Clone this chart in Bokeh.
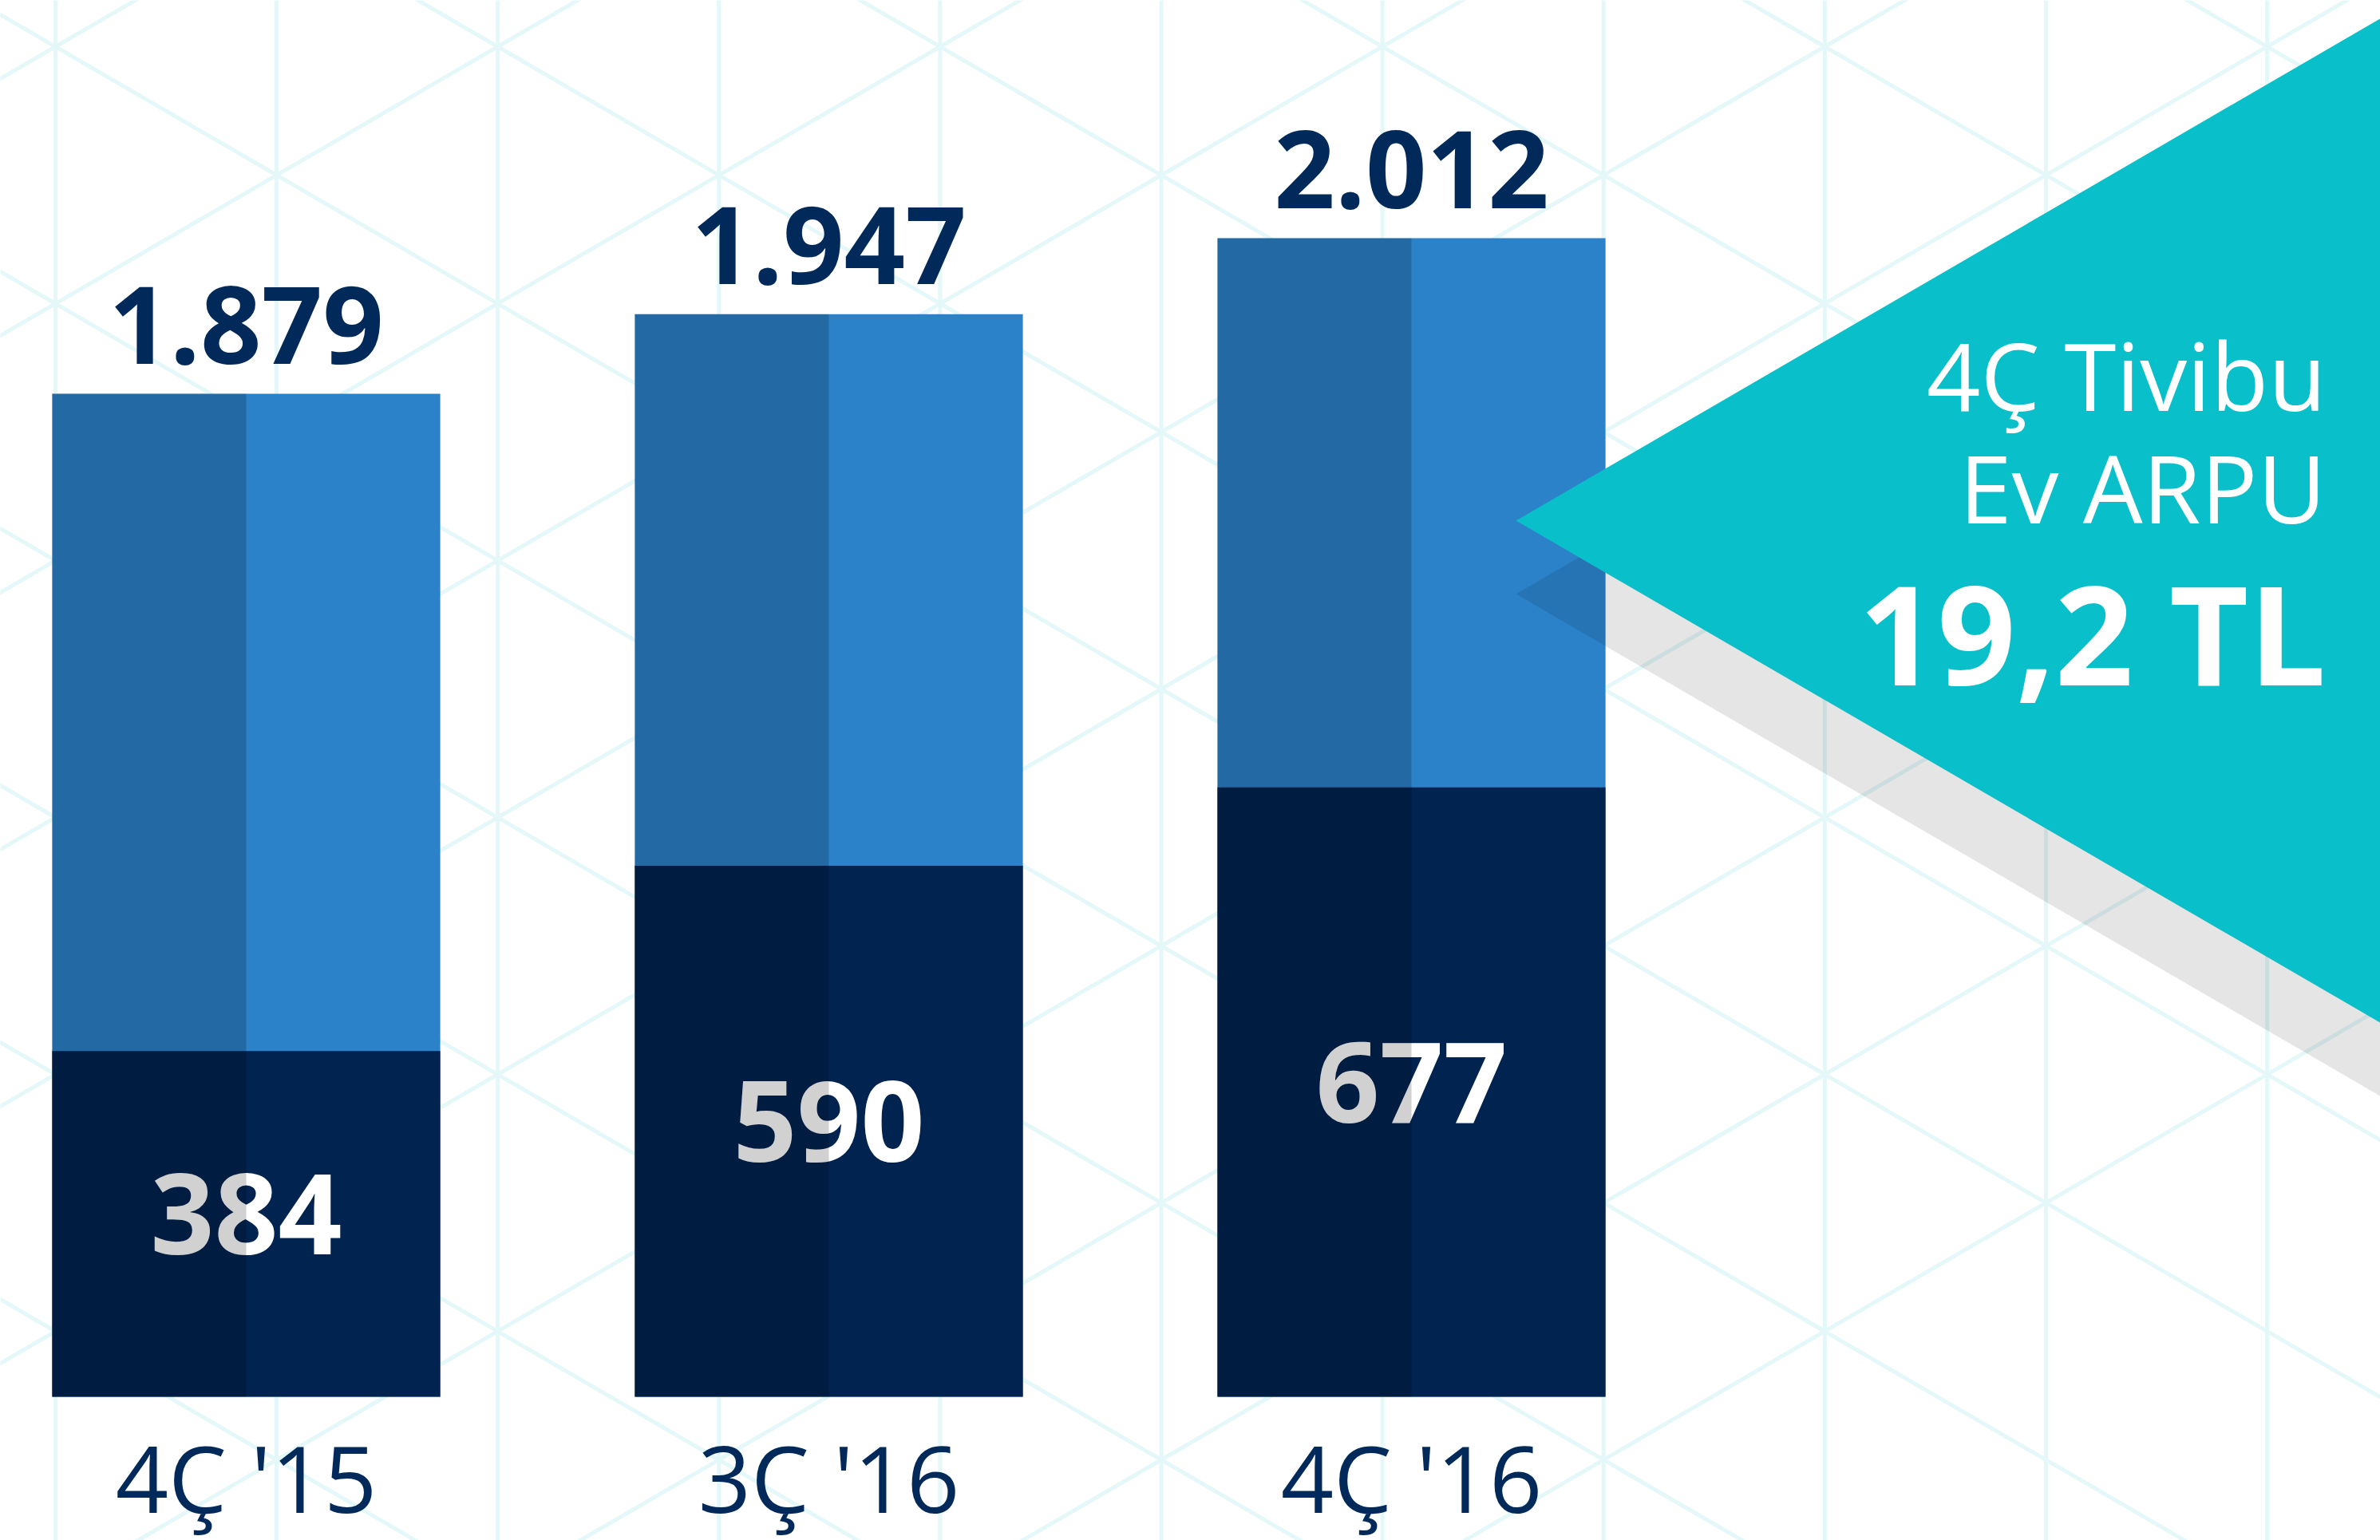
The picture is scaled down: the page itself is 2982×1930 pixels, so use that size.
import numpy as np
from bokeh.plotting import figure
from bokeh.models import Range1d, ColumnDataSource
from bokeh.core.properties import value
from bokeh.embed import file_html
from bokeh.resources import INLINE

# ---------------- data ----------------
categories = ["4Ç '15", "3Ç '16", "4Ç '16"]
total_subs = [1879, 1947, 2012]          # label above bar
tivibu_ev = [384, 590, 677]              # dark lower segment
arpu_title = ["4Ç Tivibu", "Ev ARPU"]
arpu_value = "19,2 TL"

def tr_fmt(v):
    return f"{v:,}".replace(",", ".")

total_labels = [tr_fmt(v) for v in total_subs]
ev_labels = [str(v) for v in tivibu_ev]

# ---------------- styling / layout ----------------
W, H = 2982, 1930
PAGE_X0, PAGE_Y0 = 0, 0
BASE_PX = 1750            # page y of bar baseline
BAR0_PX, BAR_STEP = 308, 730
BAR_W = 0.666

LIGHT = "#2B82C9"
DARK = "#002350"
NAVY = "#012A5A"
TEAL = "#09BFC9"
LATTICE = "#E4F7F9"
FONT = value("Open Sans")

# scales (infographic scales, not to common scale)
k_dark = 1.128                   # px per unit for lower segment
b_tot, v0_tot = 1.4672, 1022.3   # px per unit / baseline value for totals

x_range = Range1d((PAGE_X0 - BAR0_PX) / BAR_STEP, (PAGE_X0 + W - BAR0_PX) / BAR_STEP)
y_range = Range1d(-(PAGE_Y0 + H - BASE_PX) / k_dark, (BASE_PX - PAGE_Y0) / k_dark)

p = figure(width=W, height=H, x_range=x_range, y_range=y_range,
           output_backend="svg", toolbar_location=None,
           x_axis_location=None, y_axis_location=None,
           min_border=0, background_fill_color="white", border_fill_color="white")
p.outline_line_color = None
p.grid.visible = False
p.extra_y_ranges = {
    "total": Range1d(v0_tot - (PAGE_Y0 + H - BASE_PX) / b_tot, v0_tot + (BASE_PX - PAGE_Y0) / b_tot),
    "py": Range1d(PAGE_Y0 + H, PAGE_Y0),
}
p.extra_x_ranges = {"px": Range1d(PAGE_X0, PAGE_X0 + W)}

# ---------------- background lattice ----------------
dx, half_dy = 277.1, 161.0
ox, oy = 69.0, 58.0
slope = half_dy / dx
vx = ox + dx * np.arange(-1, 12)
p.segment(x0=vx, y0=np.full(vx.shape, -50.0), x1=vx, y1=np.full(vx.shape, 2000.0),
          x_range_name="px", y_range_name="py", line_color=LATTICE, line_width=5)
m = np.arange(-9, 10)
xa, xb = -100.0, 3100.0
for sgn in (1, -1):
    ya = oy + sgn * slope * (xa - ox) + 2 * half_dy * m
    yb = oy + sgn * slope * (xb - ox) + 2 * half_dy * m
    p.segment(x0=np.full(m.shape, xa), y0=ya, x1=np.full(m.shape, xb), y1=yb,
              x_range_name="px", y_range_name="py", line_color=LATTICE, line_width=5)

# ---------------- bars ----------------
idx = np.arange(len(categories))
src = ColumnDataSource(dict(
    x=idx, total=total_subs, ev=tivibu_ev, half=[v / 2 for v in tivibu_ev],
    xl=idx - BAR_W / 4, tl=total_labels, el=ev_labels, cat=categories,
))

p.vbar(x="x", width=BAR_W, bottom=v0_tot, top="total", source=src,
       y_range_name="total", fill_color=LIGHT, line_color=None)
p.vbar(x="x", width=BAR_W, bottom=0, top="ev", source=src,
       fill_color=DARK, line_color=None)

p.text(x="x", y="half", text="el", source=src, text_font=FONT, text_font_style="bold",
       text_font_size="140px", text_align="center", text_baseline="middle",
       text_color="white", y_offset=-12)

# darker left-half shading
p.vbar(x="xl", width=BAR_W / 2, bottom=v0_tot, top="total", source=src,
       y_range_name="total", fill_color="black", fill_alpha=0.18, line_color=None)

p.text(x="x", y="total", text="tl", source=src, y_range_name="total",
       text_font=FONT, text_font_style="bold", text_font_size="134px",
       text_align="center", text_baseline="middle", text_color=NAVY, y_offset=-86)

p.text(x="x", y=0, text="cat", source=src, text_font=FONT, text_font_size="116px",
       text_align="center", text_baseline="middle", text_color=NAVY, y_offset=100)

# ---------------- ARPU callout ----------------
tip_x, tip_y = 1899.0, 652.0
far_x = 3100.0
tri_xs = [tip_x, far_x, far_x]
tri_ys = [tip_y, tip_y - slope * (far_x - tip_x), tip_y + slope * (far_x - tip_x)]
p.patch(x=tri_xs, y=[v + 92 for v in tri_ys], x_range_name="px", y_range_name="py",
        fill_color="black", fill_alpha=0.10, line_color=None)
p.patch(x=tri_xs, y=tri_ys, x_range_name="px", y_range_name="py",
        fill_color=TEAL, line_color=None)

txt_x = 2914
p.text(x=[txt_x, txt_x], y=[469, 610], text=arpu_title, x_range_name="px", y_range_name="py",
       text_font=FONT, text_font_size="118px", text_align="right",
       text_baseline="middle", text_color="white")
p.text(x=[txt_x], y=[791], text=[arpu_value], x_range_name="px", y_range_name="py",
       text_font=FONT, text_font_style="bold", text_font_size="172px", text_align="right",
       text_baseline="middle", text_color="white")

open("out.html", "w").write(file_html(p, INLINE))
